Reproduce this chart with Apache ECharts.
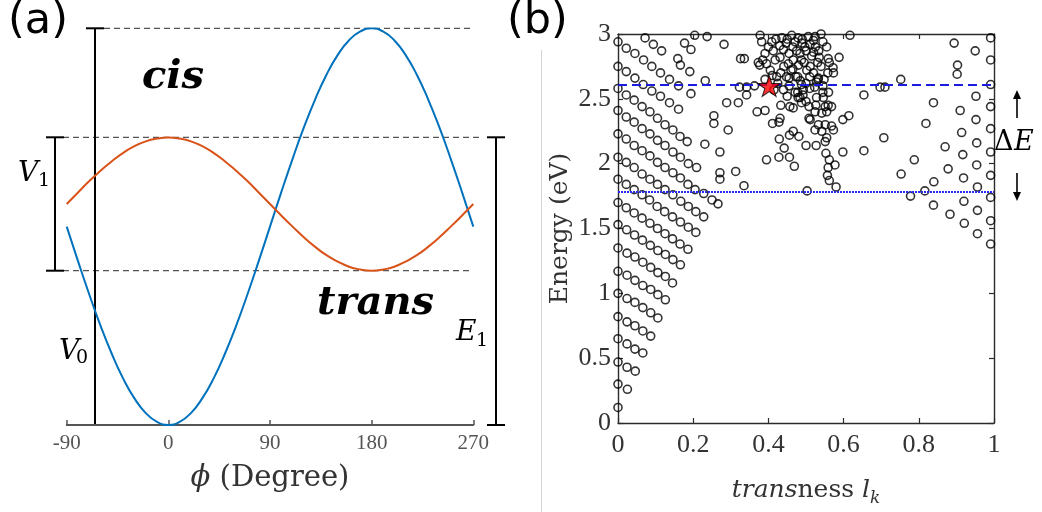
<!DOCTYPE html>
<html>
<head>
<meta charset="utf-8">
<script src="https://cdn.jsdelivr.net/npm/echarts@6/dist/echarts.min.js"></script>
<style>
  html, body { margin: 0; padding: 0; background: #fff; }
  #chart { width: 1042px; height: 512px; }
</style>
</head>
<body>
<div id="chart"></div>
<script>
// ---- panel (a): potential vs torsion angle ----
var phiTicks = [-90, 0, 90, 180, 270];
var phi = [-90, -80, -70, -60, -50, -40, -30, -20, -10, 0, 10, 20, 30, 40, 50, 60, 70, 80, 90,
  100, 110, 120, 130, 140, 150, 160, 170, 180, 190, 200, 210, 220, 230, 240, 250, 260, 270];
// ground state (blue) and excited state (orange)
var groundCurve = [0.5, 0.413, 0.329, 0.25, 0.179, 0.117, 0.067, 0.030, 0.008, 0, 0.008, 0.030, 0.067, 0.117, 0.179, 0.25, 0.329, 0.413, 0.5,
  0.587, 0.671, 0.75, 0.821, 0.883, 0.933, 0.970, 0.992, 1.0, 0.992, 0.970, 0.933, 0.883, 0.821, 0.75, 0.671, 0.587, 0.5];
var excitedCurve = [0.557, 0.586, 0.615, 0.641, 0.665, 0.686, 0.703, 0.715, 0.722, 0.725, 0.722, 0.715, 0.703, 0.686, 0.665, 0.641, 0.615, 0.586, 0.557,
  0.528, 0.500, 0.473, 0.449, 0.428, 0.412, 0.399, 0.392, 0.389, 0.392, 0.399, 0.412, 0.428, 0.449, 0.473, 0.500, 0.528, 0.557];

// ---- panel (b): energy vs transness ----
var transTicks = [0, 0.2, 0.4, 0.6, 0.8, 1];
var energyTicks = [0, 0.5, 1, 1.5, 2, 2.5, 3];
var upperLevel = 2.61;   // dashed blue
var lowerLevel = 1.785;  // dotted blue
var starPoint = [[0.402, 2.60]];

// diagonal rows starting at transness 0
var leftRows = [
  [0, 0.12],
  [0, 0.30], [0.025, 0.26],
  [0, 0.47], [0.024, 0.43], [0.046, 0.40],
  [0, 0.65], [0.024, 0.61], [0.045, 0.57], [0.066, 0.54],
  [0, 0.82], [0.024, 0.78], [0.045, 0.75], [0.066, 0.71], [0.087, 0.67],
  [0, 1.00], [0.024, 0.96], [0.045, 0.93], [0.066, 0.89], [0.087, 0.85], [0.106, 0.81],
  [0, 1.17], [0.024, 1.14], [0.045, 1.10], [0.066, 1.06], [0.087, 1.03], [0.106, 0.99], [0.126, 0.95],
  [0, 1.35], [0.024, 1.31], [0.045, 1.28], [0.066, 1.24], [0.087, 1.20], [0.106, 1.16], [0.126, 1.13], [0.145, 1.08],
  [0, 1.53], [0.023, 1.49], [0.044, 1.45], [0.065, 1.41], [0.086, 1.37], [0.106, 1.33], [0.126, 1.30], [0.146, 1.26], [0.166, 1.22],
  [0, 1.70], [0.022, 1.66], [0.043, 1.62], [0.064, 1.58], [0.085, 1.54], [0.105, 1.50], [0.125, 1.46], [0.145, 1.42], [0.165, 1.38], [0.186, 1.34],
  [0, 1.88], [0.022, 1.84], [0.043, 1.80], [0.064, 1.76], [0.084, 1.72], [0.104, 1.67], [0.124, 1.63], [0.145, 1.59], [0.166, 1.55], [0.187, 1.51], [0.207, 1.47],
  [0, 2.05], [0.022, 2.01], [0.043, 1.97], [0.064, 1.92], [0.085, 1.88], [0.105, 1.84], [0.125, 1.80], [0.146, 1.76], [0.167, 1.71], [0.187, 1.67], [0.207, 1.63], [0.228, 1.59],
  [0, 2.23], [0.022, 2.19], [0.043, 2.14], [0.064, 2.10], [0.085, 2.06], [0.105, 2.01], [0.125, 1.97], [0.146, 1.93], [0.166, 1.89], [0.186, 1.84], [0.205, 1.80], [0.228, 1.77], [0.25, 1.72], [0.266, 1.69],
  [0, 2.41], [0.022, 2.36], [0.043, 2.32], [0.064, 2.27], [0.085, 2.23], [0.105, 2.18], [0.125, 2.14], [0.146, 2.09], [0.166, 2.05], [0.187, 2.00], [0.209, 1.97],
  [0, 2.58], [0.022, 2.53], [0.043, 2.49], [0.064, 2.44], [0.085, 2.40], [0.105, 2.35], [0.125, 2.30], [0.146, 2.26], [0.165, 2.21], [0.184, 2.17],
  [0, 2.75], [0.022, 2.71], [0.045, 2.66], [0.067, 2.61], [0.09, 2.56], [0.113, 2.52], [0.137, 2.47], [0.161, 2.42],
  [0, 2.94], [0.022, 2.89], [0.045, 2.85], [0.068, 2.80], [0.09, 2.75], [0.113, 2.70], [0.137, 2.65], [0.161, 2.60], [0.194, 2.54],
  [0.072, 2.97], [0.094, 2.92], [0.116, 2.87], [0.159, 2.81], [0.166, 2.76], [0.191, 2.71],
  [0.177, 2.93], [0.194, 2.88], [0.204, 2.99], [0.237, 2.98], [0.232, 2.64]
];

// scattered middle states
var midPoints = [
  [0.282, 2.92], [0.326, 2.81], [0.336, 2.81], [0.255, 2.37], [0.255, 2.31], [0.293, 2.26], [0.231, 2.15],
  [0.271, 2.09], [0.271, 1.93], [0.271, 1.88], [0.313, 1.94], [0.335, 1.83], [0.289, 2.47], [0.32, 2.47],
  [0.323, 2.59], [0.342, 2.59], [0.342, 2.53], [0.37, 2.40], [0.391, 2.41], [0.411, 2.31], [0.428, 2.32],
  [0.431, 2.35], [0.433, 2.45], [0.457, 2.44], [0.466, 2.25], [0.429, 2.19], [0.456, 2.22], [0.481, 2.21],
  [0.442, 2.12], [0.395, 2.03], [0.428, 2.05], [0.456, 2.05], [0.469, 1.98], [0.50, 2.14], [0.527, 2.14],
  [0.551, 2.17], [0.555, 2.20], [0.553, 2.08], [0.562, 2.03], [0.577, 1.99], [0.559, 1.97], [0.557, 1.91],
  [0.562, 1.87], [0.58, 1.82], [0.503, 1.79], [0.598, 2.09], [0.654, 2.10], [0.508, 2.35], [0.466, 2.43],
  [0.479, 2.51], [0.492, 2.53], [0.471, 2.55],
  [0.378, 2.99], [0.382, 2.94], [0.409, 2.94], [0.373, 2.78], [0.377, 2.76], [0.391, 2.85], [0.385, 2.80],
  [0.413, 2.87], [0.418, 2.80], [0.431, 2.82], [0.436, 2.97], [0.447, 2.93], [0.462, 2.99], [0.471, 2.94],
  [0.441, 2.75], [0.453, 2.77], [0.466, 2.80], [0.475, 2.87], [0.46, 2.72], [0.473, 2.67], [0.448, 2.67],
  [0.422, 2.67], [0.391, 2.65], [0.433, 2.70],
  [0.479, 2.97], [0.506, 2.98], [0.524, 2.98], [0.54, 3.0], [0.489, 2.93], [0.511, 2.92], [0.497, 2.90],
  [0.534, 2.87], [0.484, 2.85], [0.515, 2.83], [0.488, 2.80], [0.531, 2.78], [0.511, 2.75], [0.502, 2.72],
  [0.559, 2.81], [0.588, 2.82], [0.558, 2.70], [0.573, 2.70], [0.533, 2.66], [0.478, 2.67], [0.528, 2.63],
  [0.493, 2.57], [0.484, 2.51], [0.488, 2.47], [0.478, 2.55], [0.528, 2.51], [0.546, 2.51], [0.526, 2.45],
  [0.551, 2.44], [0.559, 2.45], [0.568, 2.44], [0.542, 2.39], [0.555, 2.40], [0.524, 2.40], [0.511, 2.34],
  [0.614, 2.37], [0.598, 2.34], [0.533, 2.30], [0.551, 2.30], [0.568, 2.29], [0.524, 2.26], [0.542, 2.25],
  [0.573, 2.26], [0.617, 2.99], [0.654, 2.53],
  [0.488, 2.61], [0.51, 2.58], [0.523, 2.59], [0.532, 2.65], [0.562, 2.78], [0.572, 2.74], [0.363, 2.60],
  [0.45, 2.96], [0.49, 2.96], [0.52, 2.95], [0.50, 2.87], [0.455, 2.85], [0.44, 2.88], [0.465, 2.90],
  [0.525, 2.90], [0.545, 2.94], [0.555, 2.90], [0.48, 2.76], [0.495, 2.78], [0.54, 2.75], [0.52, 2.70],
  [0.465, 2.73], [0.51, 2.67], [0.545, 2.60], [0.548, 2.65], [0.50, 2.62], [0.485, 2.64], [0.43, 2.91],
  [0.42, 2.96], [0.40, 2.90], [0.395, 2.77], [0.405, 2.72], [0.41, 2.68], [0.455, 2.66], [0.52, 2.86],
  [0.535, 2.82], [0.425, 2.62], [0.44, 2.57], [0.455, 2.60], [0.45, 2.52], [0.415, 2.57], [0.56, 2.55],
  [0.545, 2.55], [0.50, 2.48], [0.508, 2.44]
];

// states near transness 1
var rightPoints = [
  [0.894, 2.93], [0.950, 2.87], [0.991, 2.97], [0.991, 2.80], [0.903, 2.76], [0.902, 2.69], [0.752, 2.65],
  [0.697, 2.59], [0.71, 2.59], [0.991, 2.61], [0.952, 2.52], [0.839, 2.47], [0.91, 2.41], [0.991, 2.44],
  [0.952, 2.34], [0.819, 2.31], [0.914, 2.24], [0.991, 2.27], [0.954, 2.16], [0.707, 2.20], [0.870, 2.13],
  [0.917, 2.07], [0.991, 2.09], [0.788, 2.03], [0.954, 1.99], [0.878, 1.96], [0.991, 1.91], [0.753, 1.92],
  [0.919, 1.89], [0.840, 1.86], [0.956, 1.82], [0.816, 1.79], [0.991, 1.74], [0.778, 1.75], [0.920, 1.71],
  [0.839, 1.68], [0.956, 1.64], [0.883, 1.61], [0.991, 1.56], [0.921, 1.54], [0.956, 1.46], [0.991, 1.38]
];

function pairs(xs, ys) {
  return xs.map(function (x, i) { return [x, ys[i]]; });
}

var serif = 'DejaVu Serif';
var numFont = 'Liberation Serif';
var boxColor = '#2b2b2b';

var circleStyle = {
  color: 'rgba(0,0,0,0)',
  borderColor: '#000',
  borderWidth: 1.6
};

function blackLine(x1, y1, x2, y2, w) {
  return { type: 'line', shape: { x1: x1, y1: y1, x2: x2, y2: y2 }, style: { stroke: '#000', lineWidth: w || 2 } };
}
function dashLine(x1, y, x2) {
  return { type: 'line', shape: { x1: x1, y1: y, x2: x2, y2: y }, style: { stroke: '#555', lineWidth: 1.2, lineDash: [6, 4] } };
}
function label(txt, x, y, size, opts) {
  opts = opts || {};
  return {
    type: 'text', x: x, y: y,
    style: {
      text: txt, fill: opts.fill || '#000',
      fontFamily: opts.family || serif, fontSize: size,
      fontStyle: opts.italic ? 'italic' : 'normal',
      fontWeight: opts.bold ? 'bold' : 'normal',
      align: opts.align || 'left', verticalAlign: 'middle'
    }
  };
}

var chart = echarts.init(document.getElementById('chart'));

var option = {
  animation: false,
  grid: [
    { left: 66.7, right: 568.7, top: 28.3, bottom: 87 },
    { left: 618, right: 48, top: 34, bottom: 74.3 }
  ],
  xAxis: [
    {
      gridIndex: 0, type: 'value',
      min: phiTicks[0], max: phiTicks[phiTicks.length - 1], interval: phiTicks[1] - phiTicks[0],
      axisLine: { show: true, onZero: false, lineStyle: { color: '#555', width: 1.8 } },
      axisTick: { show: true, inside: true, length: 5, lineStyle: { color: '#555', width: 1.5 } },
      axisLabel: { fontFamily: numFont, fontSize: 21, color: '#555', margin: 8 },
      splitLine: { show: false },
      name: '{i|ϕ}{r| (Degree)}', nameLocation: 'middle', nameGap: 39,
      nameTextStyle: {
        rich: {
          i: { fontFamily: serif, fontStyle: 'italic', fontSize: 29, color: '#333' },
          r: { fontFamily: serif, fontSize: 29, color: '#333' }
        }
      }
    },
    {
      gridIndex: 1, type: 'value', position: 'bottom',
      min: transTicks[0], max: transTicks[transTicks.length - 1], interval: transTicks[1] - transTicks[0],
      axisLine: { show: true, onZero: false, lineStyle: { color: boxColor, width: 1.4 } },
      axisTick: { show: true, inside: true, length: 5, lineStyle: { color: boxColor, width: 1.2 } },
      axisLabel: { fontFamily: numFont, fontSize: 26, color: '#333', margin: 9 },
      splitLine: { show: false },
      name: '{i|trans}{r|ness }{i|l}{s|k}', nameLocation: 'middle', nameGap: 55,
      nameTextStyle: {
        rich: {
          i: { fontFamily: serif, fontStyle: 'italic', fontSize: 25, color: '#333', verticalAlign: 'bottom', padding: [0, 0, 4, 0] },
          r: { fontFamily: serif, fontSize: 25, color: '#333', verticalAlign: 'bottom', padding: [0, 0, 4, 0] },
          s: { fontFamily: serif, fontStyle: 'italic', fontSize: 17, color: '#333', verticalAlign: 'bottom' }
        }
      }
    },
    {
      gridIndex: 1, type: 'value', position: 'top',
      min: transTicks[0], max: transTicks[transTicks.length - 1], interval: transTicks[1] - transTicks[0],
      axisLine: { show: true, onZero: false, lineStyle: { color: boxColor, width: 1.4 } },
      axisTick: { show: true, inside: true, length: 5, lineStyle: { color: boxColor, width: 1.2 } },
      axisLabel: { show: false },
      splitLine: { show: false }
    }
  ],
  yAxis: [
    { gridIndex: 0, type: 'value', min: 0, max: 1, show: false },
    {
      gridIndex: 1, type: 'value', position: 'left',
      min: energyTicks[0], max: energyTicks[energyTicks.length - 1], interval: energyTicks[1] - energyTicks[0],
      axisLine: { show: true, onZero: false, lineStyle: { color: boxColor, width: 1.4 } },
      axisTick: { show: true, inside: true, length: 5, lineStyle: { color: boxColor, width: 1.2 } },
      axisLabel: { fontFamily: numFont, fontSize: 26, color: '#333', margin: 7 },
      splitLine: { show: false },
      name: 'Energy (eV)', nameLocation: 'middle', nameGap: 45, nameRotate: 90,
      nameTextStyle: { fontFamily: serif, fontSize: 25, color: '#333' }
    },
    {
      gridIndex: 1, type: 'value', position: 'right',
      min: energyTicks[0], max: energyTicks[energyTicks.length - 1], interval: energyTicks[1] - energyTicks[0],
      axisLine: { show: true, onZero: false, lineStyle: { color: boxColor, width: 1.4 } },
      axisTick: { show: true, inside: true, length: 5, lineStyle: { color: boxColor, width: 1.2 } },
      axisLabel: { show: false },
      splitLine: { show: false }
    }
  ],
  series: [
    {
      type: 'line', xAxisIndex: 0, yAxisIndex: 0,
      data: pairs(phi, groundCurve), smooth: true, showSymbol: false,
      lineStyle: { color: '#0072BD', width: 2 }
    },
    {
      type: 'line', xAxisIndex: 0, yAxisIndex: 0,
      data: pairs(phi, excitedCurve), smooth: true, showSymbol: false,
      lineStyle: { color: '#D95319', width: 2 }
    },
    {
      type: 'scatter', xAxisIndex: 1, yAxisIndex: 1,
      data: leftRows, symbol: 'circle', symbolSize: 8, itemStyle: circleStyle,
      markLine: {
        silent: true, symbol: 'none', label: { show: false },
        data: [
          { yAxis: upperLevel, lineStyle: { color: '#1c1ce0', width: 1.8, type: [9, 5] } },
          { yAxis: lowerLevel, lineStyle: { color: '#2a2aff', width: 1.8, type: [2, 1] } }
        ]
      }
    },
    {
      type: 'scatter', xAxisIndex: 1, yAxisIndex: 1,
      data: midPoints, symbol: 'circle', symbolSize: 8, itemStyle: circleStyle
    },
    {
      type: 'scatter', xAxisIndex: 1, yAxisIndex: 1,
      data: rightPoints, symbol: 'circle', symbolSize: 8, itemStyle: circleStyle
    },
    {
      type: 'scatter', xAxisIndex: 1, yAxisIndex: 1, z: 5,
      data: starPoint,
      symbol: 'path://M50,0 L61,35 L98,35 L68,57 L79,91 L50,70 L21,91 L32,57 L2,35 L39,35 Z',
      symbolSize: [23, 21],
      itemStyle: { color: '#ff0000', borderColor: '#000', borderWidth: 1 }
    }
  ],
  graphic: [
    // panel labels
    label('(a)', 8, 22, 43, { family: 'DejaVu Sans' }),
    label('(b)', 507, 22, 43, { family: 'DejaVu Sans' }),
    // divider between panels
    { type: 'line', shape: { x1: 541.5, y1: 50, x2: 541.5, y2: 512 }, style: { stroke: '#d4d4d4', lineWidth: 1 } },
    // dashed guide lines in (a)
    dashLine(104, 28.3, 473),
    dashLine(63, 137.3, 480),
    dashLine(63, 270.7, 473),
    // V0 bar
    blackLine(95, 28.3, 95, 425),
    blackLine(86, 28.3, 104, 28.3),
    blackLine(86, 425, 104, 425),
    // V1 bar
    blackLine(55, 137.3, 55, 270.7),
    blackLine(46, 137.3, 64, 137.3),
    blackLine(46, 270.7, 64, 270.7),
    // E1 bar
    blackLine(496, 137.3, 496, 425),
    blackLine(487, 137.3, 505, 137.3),
    blackLine(487, 425, 505, 425),
    // curve names
    label('cis', 142, 78, 40, { italic: true, bold: true }),
    label('trans', 317, 304, 40, { italic: true, bold: true }),
    label('V', 18, 174, 28, { italic: true }),
    label('1', 38, 181, 19),
    label('V', 59, 352, 28, { italic: true }),
    label('0', 76, 358, 19),
    label('E', 456, 333, 28, { italic: true }),
    label('1', 476, 341, 19),
    // delta E between the two blue levels
    label('Δ', 994, 143, 27),
    label('E', 1014, 143, 27, { italic: true }),
    blackLine(1017, 118, 1017, 97, 1.6),
    { type: 'polygon', shape: { points: [[1013, 99], [1021, 99], [1017, 90]] }, style: { fill: '#000' } },
    blackLine(1017, 173, 1017, 194, 1.6),
    { type: 'polygon', shape: { points: [[1013, 192], [1021, 192], [1017, 201]] }, style: { fill: '#000' } }
  ]
};

chart.setOption(option);
</script>
</body>
</html>
